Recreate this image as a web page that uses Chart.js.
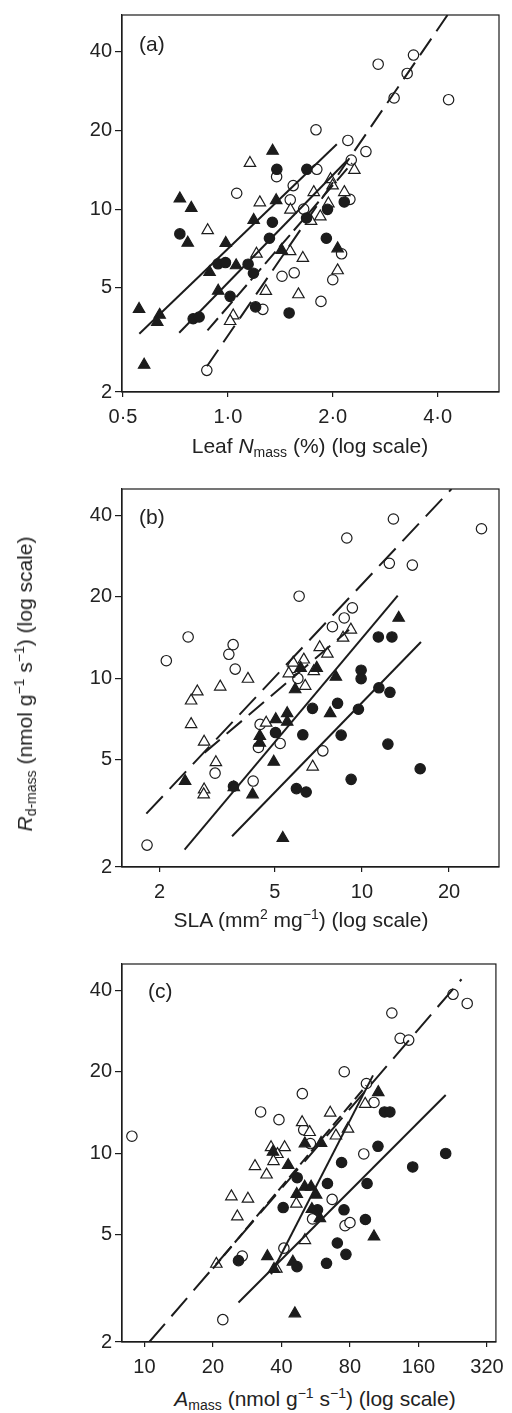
<!DOCTYPE html>
<html>
<head>
<meta charset="utf-8">
<script src="https://cdn.jsdelivr.net/npm/chart.js@4/dist/chart.umd.min.js"></script>
<style>
  body { margin: 0; background: #fff; }
  #wrap { position: relative; width: 512px; height: 1413px; font-family: 'Liberation Sans', Arial, sans-serif; color: #222; }
  canvas { position: absolute; left: 0; }
  .txt { position: absolute; white-space: nowrap; font-size: 21px; line-height: 1; transform: translate(-50%, -50%); }
  .letter { position: absolute; white-space: nowrap; font-size: 21px; line-height: 1; transform: translateY(-50%); }
  .txt sub { font-size: 14px; vertical-align: -4px; }
  .txt sup { font-size: 14px; vertical-align: 8px; }
  #ytitle { transform: translate(-50%, -50%) rotate(-90deg); }
</style>
</head>
<body>
<div id="wrap">
  <canvas id="chartA" width="512" height="440" style="top:0px"></canvas>
  <canvas id="chartB" width="512" height="440" style="top:470px"></canvas>
  <canvas id="chartC" width="512" height="440" style="top:945px"></canvas>

  <div class="letter" style="left:139px;top:43px">(a)</div>
  <div class="letter" style="left:139px;top:516px">(b)</div>
  <div class="letter" style="left:148px;top:990px">(c)</div>

  <div class="txt" style="left:310px;top:447px">Leaf <i>N</i><sub>mass</sub> (%) (log scale)</div>
  <div class="txt" style="left:301px;top:918px">SLA (mm<sup>2</sup> mg<sup>−1</sup>) (log scale)</div>
  <div class="txt" style="left:315px;top:1399px"><i>A</i><sub>mass</sub> (nmol g<sup>−1</sup> s<sup>−1</sup>) (log scale)</div>
  <div class="txt" id="ytitle" style="left:25px;top:684px"><i>R</i><sub>d-mass</sub> (nmol g<sup>−1</sup> s<sup>−1</sup>) (log scale)</div>
</div>

<script>
// shared y axis
const yTicks = [2, 5, 10, 20, 40];
const yTickLabels = ['2', '5', '10', '20', '40'];

// ---- panel (a): leaf N ----
const aXTicks = [0.5, 1, 2, 4];
const aXTickLabels = ['0·5', '1·0', '2·0', '4·0'];

const aOpenCircleX = [3.41, 2.70, 3.27, 3.00, 4.30, 1.79, 2.21, 2.49, 2.26, 1.80, 1.38, 1.54, 1.06, 1.51, 2.24, 1.65, 2.12, 1.43, 1.55, 2.00, 1.85, 1.26, 0.87];
const aOpenCircleY = [38.8, 35.8, 33.0, 26.6, 26.2, 20.1, 18.3, 16.6, 15.4, 14.2, 13.3, 12.3, 11.5, 10.85, 10.9, 10.0, 6.75, 5.54, 5.71, 5.37, 4.44, 4.14, 2.42];
const aOpenTriX = [1.157, 1.235, 0.875, 1.512, 1.764, 1.971, 1.998, 2.307, 2.159, 1.943, 1.733, 1.842, 1.208, 1.509, 1.641, 2.065, 1.285, 1.594, 1.036, 1.015];
const aOpenTriY = [15.0, 10.6, 8.30, 9.94, 11.6, 13.0, 12.3, 14.1, 11.6, 10.5, 9.00, 9.36, 6.75, 6.90, 6.50, 5.83, 4.86, 4.72, 3.92, 3.73];
const aFilledCircleX = [1.382, 1.685, 0.728, 1.342, 1.316, 0.937, 0.984, 1.143, 1.184, 1.015, 0.795, 0.827, 1.201, 1.499, 1.682, 1.932, 2.158, 1.917];
const aFilledCircleY = [14.2, 14.2, 8.04, 8.91, 7.74, 6.18, 6.25, 6.16, 5.69, 4.64, 3.81, 3.87, 4.23, 4.01, 9.25, 9.98, 10.65, 7.74];
const aFilledTriX = [1.344, 0.728, 0.785, 0.767, 1.376, 1.186, 0.986, 1.056, 0.886, 0.938, 0.556, 0.637, 0.627, 0.575, 1.426, 2.065];
const aFilledTriY = [16.7, 10.97, 10.1, 7.43, 10.8, 9.08, 7.42, 6.09, 5.74, 4.87, 4.15, 3.94, 3.70, 2.54, 6.97, 7.07];

const aFitFilledTriX = [0.557, 2.054];
const aFitFilledTriY = [3.34, 17.7];
const aFitFilledCircleX = [0.725, 2.205];
const aFitFilledCircleY = [3.37, 15.4];
const aFitOpenTriX = [0.874, 2.272];
const aFitOpenTriY = [3.44, 15.0];
const aFitOpenCircleX = [0.871, 4.27];
const aFitOpenCircleY = [2.51, 55.2];

// ---- panel (b): SLA ----
const bXTicks = [2, 5, 10, 20];
const bXTickLabels = ['2', '5', '10', '20'];

const bOpenCircleX = [12.85, 25.9, 8.87, 12.44, 14.94, 6.07, 9.27, 8.69, 7.91, 2.51, 3.59, 3.47, 2.11, 3.65, 5.80, 6.01, 4.45, 4.39, 5.22, 7.33, 3.11, 4.21, 1.81];
const bOpenCircleY = [38.8, 35.7, 33.0, 26.6, 26.2, 20.1, 18.2, 16.7, 15.5, 14.2, 13.3, 12.25, 11.6, 10.8, 10.95, 9.97, 6.74, 5.54, 5.73, 5.38, 4.45, 4.16, 2.41];
const bOpenTriX = [2.70, 2.57, 3.24, 4.04, 2.57, 2.85, 3.13, 2.85, 2.84, 4.67, 7.15, 7.60, 9.16, 8.61, 5.79, 5.59, 6.30, 6.82, 6.37, 6.76];
const bOpenTriY = [8.92, 8.25, 9.29, 9.93, 6.75, 5.81, 4.88, 3.87, 3.71, 6.83, 13.0, 12.3, 15.1, 14.1, 11.4, 10.4, 11.7, 10.6, 9.35, 4.70];
const bFilledCircleX = [11.4, 12.7, 9.94, 9.94, 11.45, 12.5, 9.73, 8.24, 6.75, 6.25, 8.48, 12.3, 15.9, 9.18, 5.94, 6.42, 3.60, 5.03];
const bFilledCircleY = [14.2, 14.2, 10.7, 9.95, 9.21, 8.86, 7.67, 8.07, 7.73, 6.17, 6.15, 5.70, 4.62, 4.22, 3.90, 3.79, 3.98, 6.29];
const bFilledTriX = [13.4, 8.13, 6.98, 6.14, 5.88, 7.77, 5.52, 5.04, 5.52, 4.44, 4.44, 4.96, 2.45, 3.61, 4.19, 5.33];
const bFilledTriY = [16.7, 10.1, 10.9, 10.9, 9.08, 7.41, 7.41, 7.04, 6.89, 6.10, 5.76, 4.90, 4.16, 3.94, 3.71, 2.56];

const bFitFilledTriX = [2.44, 13.3];
const bFitFilledTriY = [2.32, 20.2];
const bFitFilledCircleX = [3.56, 16.0];
const bFitFilledCircleY = [2.60, 13.6];
const bFitOpenTriX = [2.86, 9.03];
const bFitOpenTriY = [5.30, 15.1];
const bFitOpenCircleX = [1.80, 20.4];
const bFitOpenCircleY = [3.15, 50.1];

// ---- panel (c): A mass ----
const cXTicks = [10, 20, 40, 80, 160, 320];
const cXTickLabels = ['10', '20', '40', '80', '160', '320'];

const cOpenCircleX = [8.81, 226.9, 261.9, 122.2, 132.9, 144.9, 75.5, 94.5, 102.0, 49.4, 32.4, 39.0, 50.1, 53.6, 92.0, 66.8, 54.8, 76.1, 80.0, 41.0, 26.9, 22.1];
const cOpenCircleY = [11.55, 38.7, 35.8, 33.0, 26.6, 26.2, 20.0, 18.1, 15.4, 16.6, 14.2, 13.3, 12.2, 10.85, 9.93, 6.74, 5.71, 5.39, 5.53, 4.45, 4.16, 2.42];
const cOpenTriX = [65.5, 49.3, 78.4, 69.4, 93.3, 36.0, 41.3, 38.4, 36.9, 30.6, 34.4, 24.1, 28.5, 25.6, 46.5, 50.7, 20.7, 38.0, 53.2];
const cOpenTriY = [14.1, 13.0, 12.3, 11.6, 15.2, 10.5, 10.5, 9.91, 9.33, 8.94, 8.32, 6.91, 6.77, 5.82, 6.49, 4.76, 3.89, 3.73, 11.95];
const cFilledCircleX = [113.4, 119.8, 106.2, 210.7, 150.9, 73.5, 46.9, 63.7, 95.1, 40.7, 75.3, 57.6, 93.5, 70.4, 76.8, 63.1, 46.8, 25.9];
const cFilledCircleY = [14.2, 14.2, 10.6, 9.97, 8.89, 9.23, 8.11, 7.72, 7.72, 6.29, 6.17, 6.17, 5.68, 4.65, 4.22, 3.91, 3.80, 4.00];
const cFilledTriX = [106.5, 50.7, 59.7, 36.7, 42.8, 50.6, 54.0, 56.8, 46.7, 54.4, 59.0, 102.0, 34.7, 37.1, 44.9, 45.8];
const cFilledTriY = [16.8, 10.85, 10.9, 10.1, 9.02, 7.50, 7.50, 7.01, 7.05, 6.20, 5.74, 4.91, 4.15, 3.72, 3.96, 2.55];

const cFitFilledTriX = [36.0, 101.0];
const cFitFilledTriY = [3.56, 19.4];
const cFitFilledCircleX = [25.9, 210.7];
const cFitFilledCircleY = [2.80, 16.4];
const cFitOpenTriX = [20.0, 94.5];
const cFitOpenTriY = [3.74, 17.8];
const cFitOpenCircleX = [10.5, 247.3];
const cFitOpenCircleY = [2.0, 44.0];

const ink = '#1c1c1c';
const tickFont = { family: "'Liberation Sans', Arial, sans-serif", size: 20 };
const PLOT_H = 378;

function toPoints(xs, ys) {
  return xs.map((x, i) => ({ x: x, y: ys[i] }));
}

function markers(xs, ys, style, filled, order) {
  return {
    type: 'scatter',
    data: toPoints(xs, ys),
    pointStyle: style,
    pointRadius: style === 'circle' ? 5.2 : 6.6,
    pointHoverRadius: style === 'circle' ? 5.2 : 6.6,
    pointBackgroundColor: filled ? ink : '#fff',
    pointBorderColor: ink,
    pointBorderWidth: 1.2,
    showLine: false,
    order: order
  };
}

function fitLine(xs, ys, dash) {
  return {
    type: 'line',
    data: toPoints(xs, ys),
    borderColor: ink,
    borderWidth: 2,
    borderDash: dash,
    pointRadius: 0,
    fill: false,
    tension: 0,
    order: 0
  };
}

// box round the plot area
const frame = {
  id: 'frame',
  beforeDatasetsDraw(chart) {
    const { ctx, chartArea } = chart;
    ctx.save();
    ctx.strokeStyle = ink;
    ctx.lineWidth = 1.2;
    ctx.strokeRect(chartArea.left, chartArea.top, chartArea.right - chartArea.left, chartArea.bottom - chartArea.top);
    ctx.restore();
  }
};

function makePanel(id, padTop, xMin, xMax, xTicks, xLabels, yMax, datasets) {
  const canvas = document.getElementById(id);
  const xAxisHeight = canvas.height - padTop - PLOT_H;
  return new Chart(canvas.getContext('2d'), {
    type: 'scatter',
    data: { datasets: datasets },
    options: {
      responsive: false,
      animation: false,
      layout: { padding: { top: padTop, right: 13, left: 0, bottom: 0 } },
      plugins: { legend: { display: false }, tooltip: { enabled: false } },
      scales: {
        x: {
          type: 'logarithmic',
          bounds: 'data',
          min: xMin,
          max: xMax,
          afterBuildTicks: s => { s.ticks = xTicks.map(v => ({ value: v })); },
          afterFit: s => { s.height = xAxisHeight; },
          ticks: {
            callback: v => xLabels[xTicks.indexOf(v)],
            autoSkip: false,
            maxRotation: 0,
            padding: 8,
            color: '#222',
            font: tickFont
          },
          grid: { drawOnChartArea: false, tickLength: 5, color: ink, lineWidth: 1.2 },
          border: { color: ink, width: 1.2 }
        },
        y: {
          type: 'logarithmic',
          bounds: 'data',
          min: 2,
          max: yMax,
          afterBuildTicks: s => { s.ticks = yTicks.map(v => ({ value: v })); },
          afterFit: s => { s.width = 122; },
          ticks: {
            callback: v => yTickLabels[yTicks.indexOf(v)],
            autoSkip: false,
            padding: 3,
            color: '#222',
            font: tickFont
          },
          grid: { drawOnChartArea: false, tickLength: 7, color: ink, lineWidth: 1.2 },
          border: { color: ink, width: 1.2 }
        }
      }
    },
    plugins: [frame]
  });
}

makePanel('chartA', 14, 0.4967, 6.0, aXTicks, aXTickLabels, 55.2, [
  fitLine(aFitFilledTriX, aFitFilledTriY, []),
  fitLine(aFitFilledCircleX, aFitFilledCircleY, []),
  fitLine(aFitOpenTriX, aFitOpenTriY, [16, 6]),
  fitLine(aFitOpenCircleX, aFitOpenCircleY, [20, 9]),
  markers(aFilledTriX, aFilledTriY, 'triangle', true, 1),
  markers(aFilledCircleX, aFilledCircleY, 'circle', true, 2),
  markers(aOpenTriX, aOpenTriY, 'triangle', false, 3),
  markers(aOpenCircleX, aOpenCircleY, 'circle', false, 4)
]);

makePanel('chartB', 19, 1.483, 29.77, bXTicks, bXTickLabels, 50.1, [
  fitLine(bFitFilledTriX, bFitFilledTriY, []),
  fitLine(bFitFilledCircleX, bFitFilledCircleY, []),
  fitLine(bFitOpenTriX, bFitOpenTriY, [20, 9]),
  fitLine(bFitOpenCircleX, bFitOpenCircleY, [24, 10]),
  markers(bFilledTriX, bFilledTriY, 'triangle', true, 1),
  markers(bFilledCircleX, bFilledCircleY, 'circle', true, 2),
  markers(bOpenTriX, bOpenTriY, 'triangle', false, 3),
  markers(bOpenCircleX, bOpenCircleY, 'circle', false, 4)
]);

makePanel('chartC', 19, 7.97, 350.2, cXTicks, cXTickLabels, 50.1, [
  fitLine(cFitFilledTriX, cFitFilledTriY, []),
  fitLine(cFitFilledCircleX, cFitFilledCircleY, []),
  fitLine(cFitOpenTriX, cFitOpenTriY, [12, 5]),
  fitLine(cFitOpenCircleX, cFitOpenCircleY, [24, 10]),
  markers(cFilledTriX, cFilledTriY, 'triangle', true, 1),
  markers(cFilledCircleX, cFilledCircleY, 'circle', true, 2),
  markers(cOpenTriX, cOpenTriY, 'triangle', false, 3),
  markers(cOpenCircleX, cOpenCircleY, 'circle', false, 4)
]);
</script>
</body>
</html>
